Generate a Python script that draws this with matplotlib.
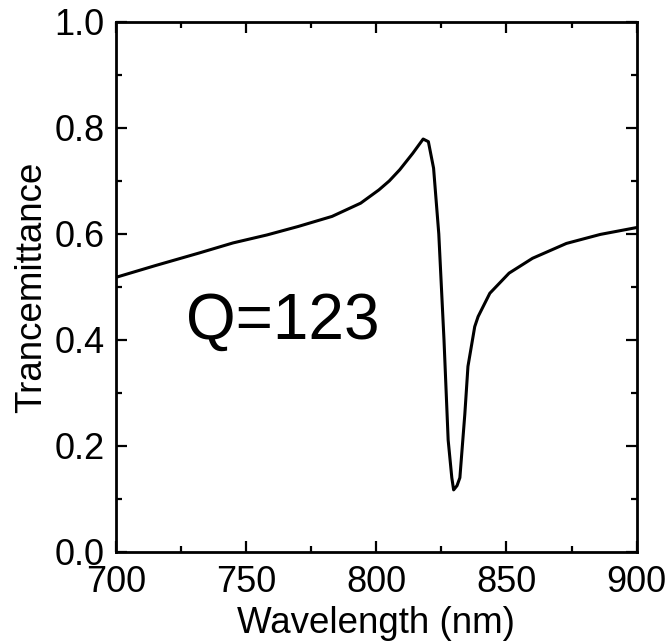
import matplotlib.pyplot as plt
from matplotlib.ticker import MultipleLocator

plt.rcParams['font.family'] = ['Liberation Sans', 'DejaVu Sans']

# wavelength (nm) and transmittance
wavelength = [700, 715, 732, 745, 758, 770, 783, 794, 801, 805, 809, 814,
              818, 820, 822, 824, 826, 827.6, 829, 829.7, 831, 832.1, 834,
              835.2, 837.8, 839.1, 843.6, 851, 860, 873, 886, 900]
transmittance = [0.518, 0.540, 0.564, 0.583, 0.598, 0.614, 0.633, 0.658,
                 0.683, 0.700, 0.721, 0.752, 0.779, 0.774, 0.724, 0.60,
                 0.40, 0.211, 0.14, 0.117, 0.125, 0.140, 0.26, 0.35, 0.425,
                 0.444, 0.488, 0.526, 0.554, 0.582, 0.599, 0.612]

fig = plt.figure(figsize=(6.66, 6.44), dpi=100)
ax = fig.add_axes([0.174, 0.143, 0.782, 0.823])
ax.plot(wavelength, transmittance, color='black', linewidth=2.2)

ax.set_xlim(700, 900)
ax.set_ylim(0, 1.0)
ax.xaxis.set_major_locator(MultipleLocator(50))
ax.xaxis.set_minor_locator(MultipleLocator(25))
ax.yaxis.set_major_locator(MultipleLocator(0.2))
ax.yaxis.set_minor_locator(MultipleLocator(0.1))
ax.yaxis.set_major_formatter(plt.FormatStrFormatter('%.1f'))
ax.tick_params(which='both', direction='in', top=True, right=True,
               labelsize=26, width=1.6)
ax.tick_params(which='major', length=8)
ax.tick_params(which='minor', length=4.5)
ax.tick_params(axis='x', which='major', pad=9.5)
ax.tick_params(axis='y', which='major', pad=8)
for s in ax.spines.values():
    s.set_linewidth(2)

ax.set_xlabel('Wavelength (nm)', fontsize=26.5, labelpad=4)
ax.set_ylabel('Trancemittance', fontsize=26.5, labelpad=4)
ax.text(727, 0.434, 'Q=123', fontsize=46, va='center', ha='left')

fig.savefig('out.png', dpi=100)
